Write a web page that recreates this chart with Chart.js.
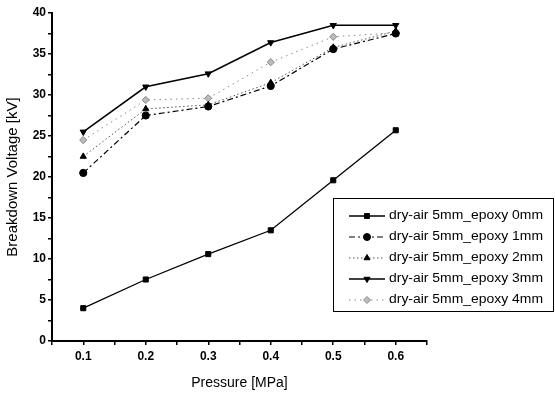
<!DOCTYPE html>
<html><head><meta charset="utf-8">
<script src="https://cdn.jsdelivr.net/npm/chart.js@4/dist/chart.umd.min.js"></script>
<style>html,body{margin:0;padding:0;background:#fff}#wrap{width:555px;height:396px}</style>
</head><body><div id="wrap"><canvas id="c" width="555" height="396"></canvas></div>
<script>
const pressures = [0.1, 0.2, 0.3, 0.4, 0.5, 0.6];
const epoxy0 = [4.0, 7.5, 10.6, 13.5, 19.6, 25.7];
const epoxy1 = [20.5, 27.5, 28.6, 31.1, 35.6, 37.5];
const epoxy2 = [22.5, 28.3, 28.8, 31.5, 35.8, 37.8];
const epoxy3 = [25.5, 31.0, 32.6, 36.4, 38.5, 38.5];
const epoxy4 = [24.5, 29.4, 29.6, 34.0, 37.1, 37.6];
const seriesLabels = ['dry-air 5mm_epoxy 0mm','dry-air 5mm_epoxy 1mm','dry-air 5mm_epoxy 2mm','dry-air 5mm_epoxy 3mm','dry-air 5mm_epoxy 4mm'];

const pts = arr => arr.map((v,i)=>({x:pressures[i], y:v}));
const mk = (label, data, style, dash, color, fill, rot, width) => ({
  label, data: pts(data), borderColor: color, backgroundColor: fill, pointBackgroundColor: fill,
  pointBorderColor: color, pointStyle: style, pointRotation: rot||0, pointRadius: 3.6, pointBorderWidth: 1,
  borderWidth: width||1.2, borderDash: dash, fill:false, tension:0
});
const datasets = [
  mk(seriesLabels[0], epoxy0, 'rect', [], '#000', '#000', 0, 1.3),
  mk(seriesLabels[1], epoxy1, 'circle', [6,3,2,3], '#000', '#000', 0, 1.2),
  mk(seriesLabels[2], epoxy2, 'triangle', [1.5,2.5], '#555', '#000', 0, 1),
  mk(seriesLabels[3], epoxy3, 'triangle', [], '#000', '#000', 180, 1.5),
  mk(seriesLabels[4], epoxy4, 'rectRot', [1.5,4], '#888', '#bbb', 0, 1)
];
datasets[2].pointBorderColor = '#000';

const legendPlugin = {
  id:'boxLegend',
  afterDraw(chart){
    const ctx = chart.ctx;
    const x0=333, y0=198, w=220, h=113;
    ctx.save();
    ctx.strokeStyle='#000'; ctx.lineWidth=1;
    ctx.strokeRect(x0+0.5,y0+0.5,w,h);
    ctx.font='12px "Liberation Sans", Arial, sans-serif';
    ctx.textBaseline='middle';
    chart.data.datasets.forEach((ds,i)=>{
      const y = 216 + i*21;
      ctx.save();
      ctx.strokeStyle = ds.borderColor; ctx.lineWidth = ds.borderWidth;
      ctx.setLineDash(ds.borderDash||[]);
      ctx.beginPath(); ctx.moveTo(349,y); ctx.lineTo(385,y); ctx.stroke();
      ctx.restore();
      ctx.save();
      ctx.fillStyle = ds.pointBackgroundColor; ctx.strokeStyle = ds.pointBorderColor; ctx.lineWidth=1;
      Chart.helpers.drawPoint(ctx, {pointStyle: ds.pointStyle, rotation: ds.pointRotation, radius:3.5, borderWidth:1}, 367, y);
      ctx.restore();
      ctx.fillStyle='#000';
      const t = ds.label; const mw = ctx.measureText(t).width;
      ctx.save(); ctx.translate(389,y); ctx.scale(154/mw,1); ctx.fillText(t,0,0); ctx.restore();
    });
    ctx.restore();
  }
};

new Chart(document.getElementById('c'), {
  type:'line',
  data:{datasets},
  options:{
    responsive:false, animation:false, devicePixelRatio:1,
    layout:{padding:{left:0,right:128,top:13,bottom:0}},
    plugins:{legend:{display:false}, tooltip:{enabled:false}},
    scales:{
      x:{type:'linear', min:0.05, max:0.65,
        afterFit(s){ s.height = 55; },
        ticks:{stepSize:0.05, color:'#000', font:{family:'"Liberation Sans", Arial', size:12, weight:'bold'},
          padding:4, maxRotation:0, autoSkip:false,
          callback:(v)=>{ const r=Math.round(v*100); return (r%10===0 && r>=10 && r<=60) ? (r/100).toFixed(1) : ''; }},
        grid:{drawOnChartArea:false, tickLength:4, color:'#000', lineWidth:1.5},
        border:{color:'#000', width:2},
        title:{display:true, text:'Pressure [MPa]', color:'#000', font:{family:'"Liberation Sans", Arial', size:14}, padding:{top:6}}
      },
      y:{min:0, max:40,
        afterFit(s){ s.width = 52; },
        ticks:{stepSize:2.5, color:'#000', font:{family:'"Liberation Sans", Arial', size:12, weight:'bold'}, padding:2, autoSkip:false,
          callback:(v)=> (v%5===0 ? String(v) : '')},
        grid:{drawOnChartArea:false, tickLength:4, color:'#000', lineWidth:1.5},
        border:{color:'#000', width:2},
        title:{display:true, text:'Breakdown Voltage [kV]', color:'#000', font:{family:'"Liberation Sans", Arial', size:15}, padding:{bottom:2}}
      }
    }
  },
  plugins:[legendPlugin]
});
</script></body></html>
